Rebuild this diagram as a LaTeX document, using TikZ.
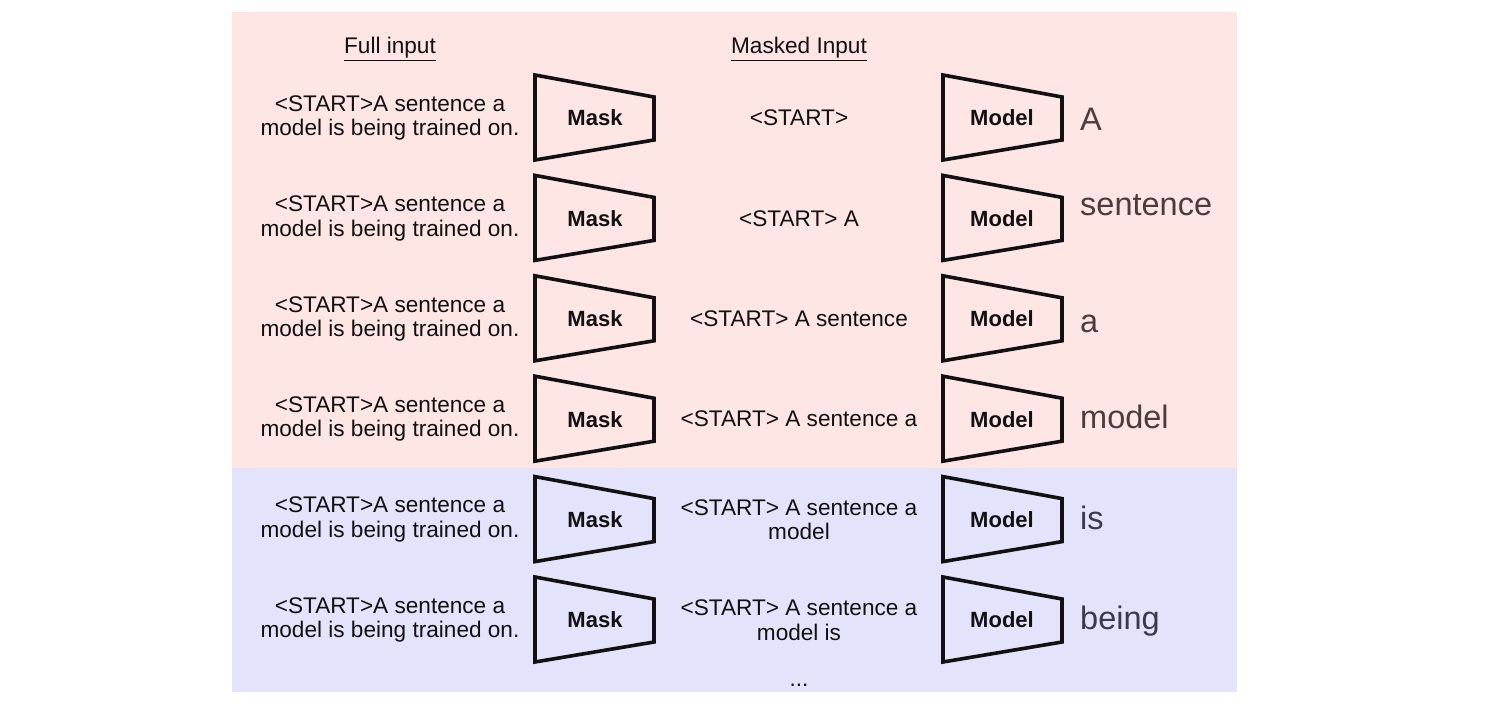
\documentclass[tikz,border=0pt]{standalone}
\usepackage{fontspec}
\setmainfont{Liberation Sans}
\definecolor{pinkbg}{RGB}{253,230,228}
\definecolor{bluebg}{RGB}{227,227,251}
\definecolor{txt}{RGB}{18,16,16}
\definecolor{outpink}{RGB}{78,60,60}
\definecolor{outblue}{RGB}{58,58,78}
\begin{document}
\begin{tikzpicture}[x=1pt,y=-1pt,
  intext/.style={align=center,font=\fontsize{22.6}{24.5}\selectfont,text=txt,inner sep=0pt},
  boxlabel/.style={font=\bfseries\fontsize{22}{24}\selectfont,text=txt,inner sep=0pt},
  outword/.style={anchor=base west,font=\fontsize{32.5}{36}\selectfont,inner sep=0pt},
  trap/.style={draw=txt,line width=3.6pt,line join=miter}]
\useasboundingbox (0,0) rectangle (1500,706);
\fill[pinkbg] (232,12) rectangle (1237,468);
\fill[bluebg] (232,468) rectangle (1237,692);
\node[intext] (h1) at (390,49) {\underline{Full input}};
\node[intext] (h2) at (799,49) {\underline{Masked Input}};
\foreach \i/\mid/\w/\bl/\col in {
  0/{<START>}/A/131/outpink,
  1/{<START> A}/sentence/215/outpink,
  2/{<START> A sentence}/a/332/outpink,
  3/{<START> A sentence a}/model/428/outpink,
  4/{<START> A sentence a\\model}/is/529/outblue,
  5/{<START> A sentence a\\model is}/being/629/outblue}{
  \pgfmathsetmacro{\cy}{118+100.4*\i}
  \node[intext] (full\i) at (390,\cy) {<START>A sentence a\\model is being trained on.};
  \draw[trap] (535,\cy-43) -- (654,\cy-21) -- (654,\cy+22) -- (535,\cy+42) -- cycle;
  \node[boxlabel] (mask\i) at (595,\cy) {Mask};
  \node[intext] (mid\i) at (799,\cy) {\mid};
  \draw[trap] (943,\cy-43) -- (1062,\cy-21) -- (1062,\cy+22) -- (943,\cy+42) -- cycle;
  \node[boxlabel] (model\i) at (1002,\cy) {Model};
  \node[outword,text=\col] (out\i) at (1080,\bl) {\w};
}
\node[intext,anchor=base] (dots) at (799,686) {...};
\end{tikzpicture}
\end{document}
